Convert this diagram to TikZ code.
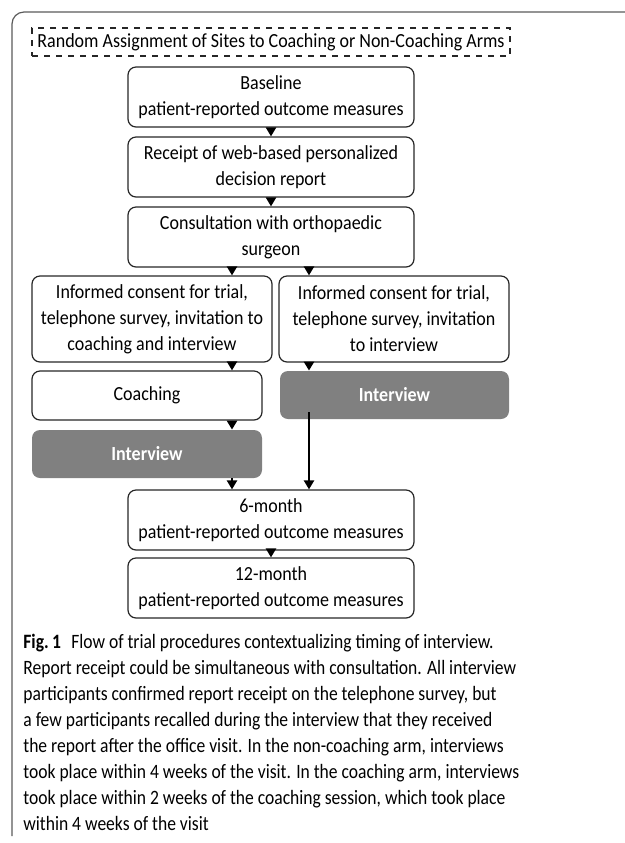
\documentclass[tikz,border=0pt]{standalone}
\usepackage{fontspec}
\setmainfont{Carlito}
\newfontfamily\capfont[FakeStretch=0.86]{Carlito}
\newfontfamily\boxfont[FakeStretch=0.9]{Carlito}
\usetikzlibrary{arrows.meta}
\definecolor{boxgray}{RGB}{128,128,128}
\definecolor{framegray}{RGB}{90,90,90}
\begin{document}
\begin{tikzpicture}[x=0.5pt,y=-0.5pt,
  stepbox/.style={draw=black!85, line width=0.6pt, rounded corners=4pt, align=center,
    font=\boxfont\fontsize{10}{13}\selectfont, inner sep=0pt, minimum width=143pt, minimum height=30pt},
  graybox/.style={fill=boxgray, rounded corners=4pt, text=white, align=center,
    font=\boxfont\fontsize{10}{13}\selectfont\bfseries, inner sep=0pt, minimum height=24pt},
  arr/.style={line width=1.3pt, -{Triangle[width=5pt,length=4.5pt]}}]
\useasboundingbox (0,0) rectangle (625,843);

% outer frame
\draw[framegray, line width=0.6pt, rounded corners=6pt] (625,12) -- (12,12) -- (12,836);

\node[draw=black!85, dashed, line width=0.6pt, inner sep=0pt, minimum width=239pt, minimum height=14pt,
  font=\boxfont\fontsize{10}{13}\selectfont] (rand) at (271,42) {Random Assignment of Sites to Coaching or Non-Coaching Arms};

\node[stepbox] (base) at (271,97) {Baseline\\patient-reported outcome measures};
\node[stepbox] (report) at (271,167) {Receipt of web-based personalized\\decision report};
\node[stepbox] (consult) at (271,237) {Consultation with orthopaedic\\surgeon};

\node[stepbox, minimum width=120pt, minimum height=43pt] (consL) at (152,319)
  {Informed consent for trial,\\telephone survey, invitation to\\coaching and interview};
\node[stepbox, minimum width=115pt, minimum height=43pt] (consR) at (394,319)
  {Informed consent for trial,\\telephone survey, invitation\\to interview};

\node[stepbox, minimum width=115pt, minimum height=24.5pt] (coach) at (147,395.5) {Coaching};
\node[graybox, minimum width=114.5pt] (intR) at (394.5,395) {Interview};
\node[graybox, minimum width=115pt] (intL) at (147,454) {Interview};

\node[stepbox] (six) at (271,520) {6-month\\patient-reported outcome measures};
\node[stepbox] (twelve) at (271,588) {12-month\\patient-reported outcome measures};

\coordinate (lx) at (232,0);
\coordinate (rx) at (309,0);

\draw[arr] (base) -- (report);
\draw[arr] (report) -- (consult);
\draw[arr] (consult.south -| lx) -- (consL.north -| lx);
\draw[arr] (consult.south -| rx) -- (consR.north -| rx);
\draw[arr] (consL.south -| lx) -- (coach.north -| lx);
\draw[arr] (consR.south -| rx) -- (intR.north -| rx);
\draw[arr] (coach.south -| lx) -- (intL.north -| lx);
\draw[arr] (intL.south -| lx) -- (six.north -| lx);
\draw[arr] ([yshift=3.5pt]intR.south -| rx) -- (six.north -| rx);
\draw[arr] (six) -- (twelve);

% caption
\node[anchor=north west, align=left, inner sep=0pt, font=\capfont\fontsize{10.2}{13}\selectfont] (cap) at (23,634)
  {\textbf{Fig.\,1}\enspace Flow of trial procedures contextualizing timing of interview.\\
   Report receipt could be simultaneous with consultation. All interview\\
   participants confirmed report receipt on the telephone survey, but\\
   a few participants recalled during the interview that they received\\
   the report after the office visit. In the non-coaching arm, interviews\\
   took place within 4 weeks of the visit. In the coaching arm, interviews\\
   took place within 2 weeks of the coaching session, which took place\\
   within 4 weeks of the visit};
\end{tikzpicture}
\end{document}
